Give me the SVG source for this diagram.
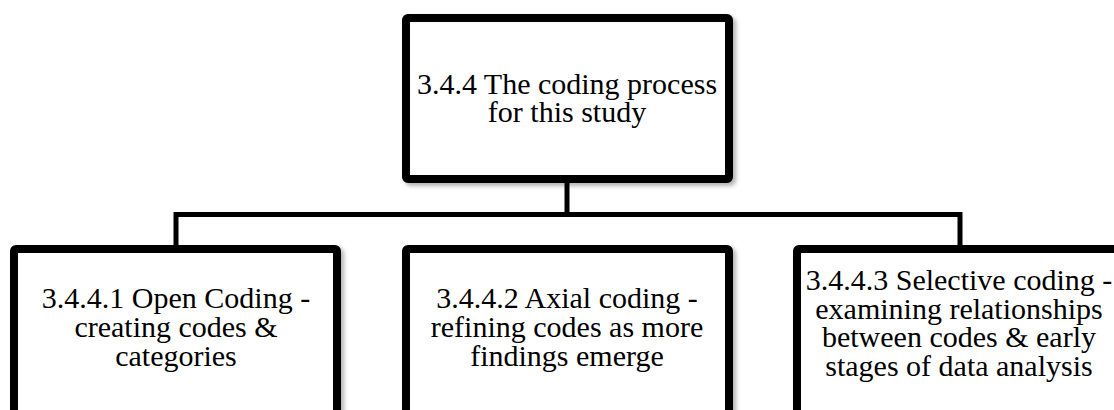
<svg xmlns="http://www.w3.org/2000/svg" width="1114" height="410" viewBox="0 0 1114 410">
  <style>
    .box { fill: #ffffff; stroke: #000000; stroke-width: 8; filter: url(#shadow); }
    .link { fill: none; stroke: #000000; stroke-width: 5; stroke-linejoin: miter; }
    .label { font-family: "Liberation Serif", "DejaVu Serif", serif; font-size: 30px; fill: #000000; text-anchor: middle; }
  </style>
  <defs>
    <filter id="shadow" x="-10%" y="-10%" width="120%" height="130%">
      <feDropShadow dx="3" dy="3" stdDeviation="2" flood-color="#000000" flood-opacity="0.3"/>
    </filter>
  </defs>

  <rect width="1114" height="410" fill="#ffffff"/>

  <!-- tree connectors -->
  <g id="connectors">
    <path class="link" d="M567 183 V214.5"/>
    <path class="link" d="M176 245 V214.5 H960 V245"/>
  </g>

  <!-- root node -->
  <g id="node-root">
    <rect class="box" x="406" y="18" width="323" height="161" rx="2"/>
    <text class="label" x="567" y="94">3.4.4 The coding process</text>
    <text class="label" x="567" y="122">for this study</text>
  </g>

  <!-- child nodes -->
  <g id="node-open">
    <rect class="box" x="14" y="249" width="323" height="170" rx="2"/>
    <text class="label" x="176" y="308">3.4.4.1 Open Coding -</text>
    <text class="label" x="176" y="337">creating codes &amp;</text>
    <text class="label" x="176" y="366">categories</text>
  </g>

  <g id="node-axial">
    <rect class="box" x="406" y="249" width="323" height="170" rx="2"/>
    <text class="label" x="567" y="308">3.4.4.2 Axial coding -</text>
    <text class="label" x="567" y="337">refining codes as more</text>
    <text class="label" x="567" y="366">findings emerge</text>
  </g>

  <g id="node-selective">
    <rect class="box" x="797" y="249" width="323" height="170" rx="2"/>
    <text class="label" x="959" y="290">3.4.4.3 Selective coding -</text>
    <text class="label" x="959" y="318.5">examining relationships</text>
    <text class="label" x="959" y="347">between codes &amp; early</text>
    <text class="label" x="959" y="375.5">stages of data analysis</text>
  </g>
</svg>
